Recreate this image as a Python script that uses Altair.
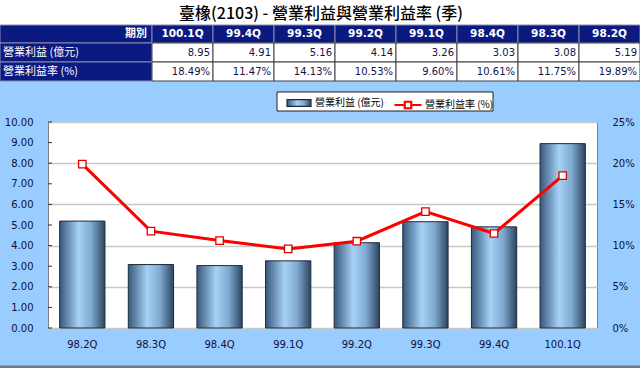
import altair as alt
import pandas as pd

# ---- data ----
table_periods = ["100.1Q", "99.4Q", "99.3Q", "99.2Q", "99.1Q", "98.4Q", "98.3Q", "98.2Q"]
op_profit = [8.95, 4.91, 5.16, 4.14, 3.26, 3.03, 3.08, 5.19]          # 億元
op_margin = [18.49, 11.47, 14.13, 10.53, 9.60, 10.61, 11.75, 19.89]    # %
row_labels = ["期別", "營業利益 (億元)", "營業利益率 (%)"]
title_text = "臺橡(2103) - 營業利益與營業利益率 (季)"
bar_name = "營業利益 (億元)"
line_name = "營業利益率 (%)"
left_ticks = [0, 1, 2, 3, 4, 5, 6, 7, 8, 9, 10]
right_ticks = [0, 5, 10, 15, 20, 25]

# chart order is chronological (reverse of the table)
chart_periods = table_periods[::-1]
chart_df = pd.DataFrame({
    "period": chart_periods,
    "profit": op_profit[::-1],
    "margin": op_margin[::-1],
    "bar_series": bar_name,
    "line_series": line_name,
})

# ---- layout constants ----
W, H = 549, 206
PADL, PADT, PADR, PADB = 48, 122, 43, 48
NAVY = "#0b1a80"
SKY = "#99ccff"
FONT = "DejaVu Sans"
CJK = "Noto Sans CJK TC"

# page-coordinate scales (absolute canvas pixels -> plot-relative pixels)
def PX():
    return alt.Scale(domain=[0, 640], range=[-PADL, 640 - PADL], nice=False, zero=False)

def PY():
    return alt.Scale(domain=[0, 376], range=[-PADT, 376 - PADT], nice=False, zero=False)

# ---- table cells ----
label_w = 152
col_w = (640 - label_w) / len(table_periods)
row_y = [25, 43, 62, 81]
cells = []
texts_center, texts_right, texts_left = [], [], []
for r in range(3):
    y0, y1 = row_y[r], row_y[r + 1]
    cells.append(dict(x0=0, x1=label_w, y0=y0, y1=y1, fill=NAVY, stroke="#8a8ab0"))
    if r == 0:
        texts_right.append(dict(x=label_w - 5, y=(y0 + y1) / 2, t=row_labels[0], c="white"))
    else:
        texts_left.append(dict(x=3, y=(y0 + y1) / 2, t=row_labels[r], c="white"))
    for i, p in enumerate(table_periods):
        x0 = label_w + i * col_w
        x1 = x0 + col_w
        if r == 0:
            cells.append(dict(x0=x0, x1=x1, y0=y0, y1=y1, fill=NAVY, stroke="#8a8ab0"))
            texts_center.append(dict(x=(x0 + x1) / 2, y=(y0 + y1) / 2, t=p, c="white"))
        else:
            cells.append(dict(x0=x0, x1=x1, y0=y0, y1=y1, fill="white", stroke="#404040"))
            val = f"{op_profit[i]:.2f}" if r == 1 else f"{op_margin[i]:.2f}%"
            texts_right.append(dict(x=x1 - 3, y=(y0 + y1) / 2, t=val, c="#14144a"))
cells_df = pd.DataFrame(cells)

bands = pd.DataFrame([
    dict(x0=0, x1=640, y0=0, y1=25, fill="white"),        # title strip
    dict(x0=0, x1=640, y0=365.5, y1=368, fill="#6e7a88"),  # chart-area bottom border
    dict(x0=0, x1=640, y0=368, y1=376, fill="white"),      # bottom strip
    dict(x0=277, x1=493, y0=92, y1=111, fill="white"),     # legend box
])

bands_layer = alt.Chart(bands).mark_rect().encode(
    x=alt.X("x0:Q", scale=PX(), axis=None), x2="x1",
    y=alt.Y("y0:Q", scale=PY(), axis=None), y2="y1",
    fill=alt.Fill("fill:N", scale=None, legend=None),
)
legend_box = alt.Chart(bands.iloc[[3]]).mark_rect(fill="white", stroke="#202020", strokeWidth=1).encode(
    x=alt.X("x0:Q", scale=PX(), axis=None), x2="x1",
    y=alt.Y("y0:Q", scale=PY(), axis=None), y2="y1",
)

cells_layer = alt.Chart(cells_df).mark_rect(strokeWidth=1).encode(
    x=alt.X("x0:Q", scale=PX(), axis=None), x2="x1",
    y=alt.Y("y0:Q", scale=PY(), axis=None), y2="y1",
    fill=alt.Fill("fill:N", scale=None, legend=None),
    stroke=alt.Stroke("stroke:N", scale=None, legend=None),
)

def text_layer(rows, align, font, weight, size):
    return alt.Chart(pd.DataFrame(rows)).mark_text(
        align=align, baseline="middle", font=font, fontWeight=weight, fontSize=size
    ).encode(
        x=alt.X("x:Q", scale=PX(), axis=None),
        y=alt.Y("y:Q", scale=PY(), axis=None),
        text="t:N",
        color=alt.Color("c:N", scale=None, legend=None),
    )

hdr_layer = text_layer(texts_center, "center", FONT, "bold", 10.5)
val_layer = text_layer([t for t in texts_right if t["t"] != row_labels[0]], "right", FONT, "normal", 10)
qibie_layer = text_layer([t for t in texts_right if t["t"] == row_labels[0]], "right", CJK, "bold", 11)
lbl_layer = text_layer(texts_left, "left", CJK, "normal", 11)
title_layer = text_layer([dict(x=321, y=13.5, t=title_text, c="#000000")], "center", CJK, 500, 16)

# ---- main chart ----
bar_gradient = alt.Gradient(
    gradient="linear", x1=0, x2=1, y1=0, y2=0,
    stops=[
        alt.GradientStop(color="#36587c", offset=0),
        alt.GradientStop(color="#a6d2f6", offset=0.42),
        alt.GradientStop(color="#7fa9d0", offset=0.7),
        alt.GradientStop(color="#2c445f", offset=1),
    ],
)

bars = alt.Chart(chart_df).mark_bar(fill=bar_gradient, strokeWidth=1).encode(
    x=alt.X("period:N", sort=chart_periods, title=None,
            scale=alt.Scale(domain=chart_periods, paddingInner=0.34, paddingOuter=0.17),
            axis=alt.Axis(labelAngle=0, ticks=False, domain=False, labelPadding=11,
                          labelFont=FONT, labelFontSize=10, labelColor="#10103a")),
    y=alt.Y("profit:Q", title=None,
            scale=alt.Scale(domain=[0, 10], nice=False, zero=True),
            axis=alt.Axis(orient="left", values=left_ticks, format=".2f", grid=False,
                          ticks=False, tickSize=0, domain=False, labelPadding=15,
                          labelFont=FONT, labelFontSize=10, labelColor="#10103a")),
    stroke=alt.Stroke("bar_series:N", title=None,
                      scale=alt.Scale(domain=[bar_name], range=["#1c2b3c"]),
                      legend=alt.Legend(orient="none", legendX=238, legendY=-32,
                                        symbolType="M-1,-0.28H1V0.28H-1Z", symbolSize=576,
                                        symbolFillColor="#6d9bc6", symbolStrokeColor="#1c2b3c",
                                        symbolStrokeWidth=1.2, labelOffset=3,
                                        labelFont=CJK, labelFontSize=10, labelColor="#000000")),
)

inner_ticks = alt.Chart(pd.DataFrame({"v": left_ticks})).mark_rule(color="#303030", strokeWidth=1).encode(
    y=alt.Y("v:Q", scale=alt.Scale(domain=[0, 10], nice=False), axis=None),
    x=alt.value(0), x2=alt.value(4),
)

line = alt.Chart(chart_df).mark_line(strokeWidth=3).encode(
    x=alt.X("period:N", sort=chart_periods,
            scale=alt.Scale(type="point", domain=chart_periods, padding=0.5), axis=None),
    y=alt.Y("margin:Q", title=None,
            scale=alt.Scale(domain=[0, 25], nice=False, zero=True),
            axis=alt.Axis(orient="right", values=right_ticks, labelExpr="datum.value + '%'",
                          grid=True, gridColor="#c8c8c8", gridWidth=1.5,
                          ticks=False, tickSize=0, domain=False, labelPadding=15,
                          labelFont=FONT, labelFontSize=10, labelColor="#10103a")),
    stroke=alt.Stroke("line_series:N", title=None,
                      scale=alt.Scale(domain=[line_name], range=["#ff0000"]),
                      legend=alt.Legend(orient="none", legendX=345, legendY=-32,
                                        symbolType="M-1,0H-0.24M0.24,0H1M-0.24,-0.24H0.24V0.24H-0.24Z",
                                        symbolSize=729, symbolFillColor="white",
                                        symbolStrokeColor="#ff0000", symbolStrokeWidth=2.2,
                                        labelOffset=2, labelLimit=200,
                                        labelFont=CJK, labelFontSize=10, labelColor="#000000")),
)

points = alt.Chart(chart_df).mark_point(
    shape="square", filled=True, fill="white", stroke="#e00000", strokeWidth=1.3, size=55, opacity=1
).encode(
    x=alt.X("period:N", sort=chart_periods,
            scale=alt.Scale(type="point", domain=chart_periods, padding=0.5), axis=None),
    y=alt.Y("margin:Q", scale=alt.Scale(domain=[0, 25], nice=False, zero=True), axis=None),
)

chart = alt.layer(
    bands_layer, legend_box, cells_layer, title_layer, hdr_layer, val_layer, qibie_layer, lbl_layer,
    bars, inner_ticks, line, points,
).resolve_scale(
    x="independent", y="independent", stroke="independent"
).resolve_legend(
    stroke="independent"
).properties(
    width=W, height=H,
    autosize=alt.AutoSizeParams(type="none"),
    padding={"left": PADL, "top": PADT, "right": PADR, "bottom": PADB},
    background=SKY,
    view=alt.ViewBackground(fill="white", stroke="#808080", strokeWidth=1),
)

chart.save("out.html", embed_options={"renderer": "svg", "actions": False})
